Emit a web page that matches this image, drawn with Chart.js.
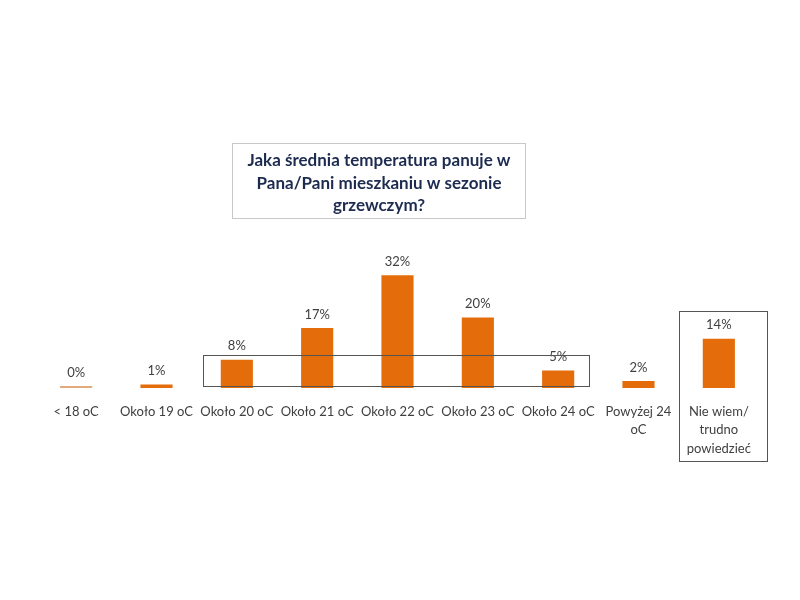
<!DOCTYPE html>
<html>
<head>
<meta charset="utf-8">
<script src="https://cdn.jsdelivr.net/npm/chart.js@4.4.0/dist/chart.umd.min.js"></script>
<style>
  body { margin: 0; background: #fff; }
  #wrap { width: 800px; height: 600px; }
</style>
</head>
<body>
<div id="wrap"><canvas id="myChart" width="800" height="600"></canvas></div>
<script>
const categories = [
  '< 18 oC',
  'Około 19 oC',
  'Około 20 oC',
  'Około 21 oC',
  'Około 22 oC',
  'Około 23 oC',
  'Około 24 oC',
  ['Powyżej 24', 'oC'],
  ['Nie wiem/', 'trudno', 'powiedzieć']
];
const values = [0, 1, 8, 17, 32, 20, 5, 2, 14];
const titleLines = ['Jaka średnia temperatura panuje w', 'Pana/Pani mieszkaniu w sezonie', 'grzewczym?'];

// draws the title box, value labels and the two frames
const extras = {
  id: 'extras',
  afterDatasetsDraw(chart) {
    const ctx = chart.ctx;
    const x = chart.scales.x;
    const y = chart.scales.y;
    const meta = chart.getDatasetMeta(0);

    ctx.save();
    // value labels
    ctx.fillStyle = '#404040';
    ctx.font = '13px Lato';
    ctx.textAlign = 'center';
    ctx.textBaseline = 'bottom';
    meta.data.forEach((bar, i) => {
      ctx.fillText(values[i] + '%', bar.x, Math.min(bar.y, y.getPixelForValue(0) - 2) - 7);
    });

    // title box
    ctx.strokeStyle = '#c8c8c8';
    ctx.lineWidth = 1;
    ctx.strokeRect(232.5, 143.5, 293, 75);
    ctx.fillStyle = '#1c2b4f';
    ctx.font = 'bold 17px Lato';
    ctx.textBaseline = 'middle';
    titleLines.forEach((t, i) => ctx.fillText(t, 379, 161 + i * 22.5));

    // frame around 20-24 oC
    const step = x.getPixelForValue(1) - x.getPixelForValue(0);
    const base = y.getPixelForValue(0);
    ctx.strokeStyle = '#555';
    const l = x.getPixelForValue(2) - step * 0.42;
    const r = x.getPixelForValue(6) + step * 0.38;
    ctx.strokeRect(Math.round(l) + 0.5, Math.round(y.getPixelForValue(9.5)) + 0.5, Math.round(r - l), Math.round(base - 2 - y.getPixelForValue(9.5)));

    // frame around "Nie wiem"
    const l2 = x.getPixelForValue(8) - step * 0.5;
    const r2 = x.getPixelForValue(8) + step * 0.6;
    ctx.strokeRect(Math.round(l2) + 0.5, Math.round(y.getPixelForValue(21.8)) + 0.5, Math.round(r2 - l2), 150);
    ctx.restore();
  }
};

const data = {
  labels: categories,
  datasets: [{
    data: values,
    backgroundColor: values.map(v => v === 0 ? 'rgb(226, 170, 120)' : 'rgb(228, 108, 10)'),
    categoryPercentage: 1,
    barPercentage: 0.4,
    minBarLength: 2
  }]
};

const config = {
  type: 'bar',
  data: data,
  options: {
    responsive: false,
    animation: false,
    layout: { padding: { left: 36, right: 41, top: 247, bottom: 0 } },
    plugins: { legend: { display: false }, tooltip: { enabled: false } },
    scales: {
      x: {
        grid: { display: false },
        border: { display: false },
        ticks: {
          color: '#404040',
          font: { family: 'Lato', size: 13, lineHeight: 1.4 },
          padding: 7,
          autoSkip: false,
          maxRotation: 0
        },
        afterFit(scale) { scale.height = 212; }
      },
      y: {
        display: false,
        min: 0,
        max: 40
      }
    }
  },
  plugins: [extras]
};

const myChart = new Chart(document.getElementById('myChart'), config);
</script>
</body>
</html>
